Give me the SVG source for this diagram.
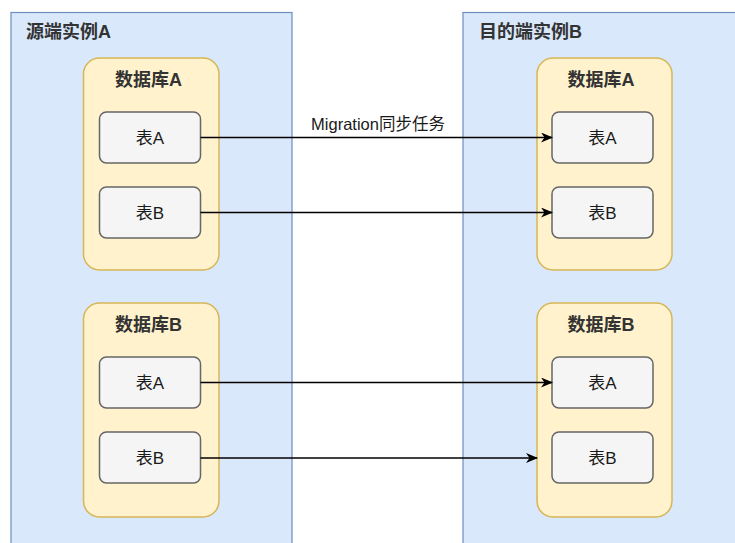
<svg xmlns="http://www.w3.org/2000/svg" width="735" height="543" viewBox="0 0 735 543">
<defs>
<style>
.inst{fill:#dae8fc;stroke:#6c8ebf;stroke-width:1.2}
.db{fill:#fff2cc;stroke:#d6b656;stroke-width:1.5}
.tbl{fill:#f5f5f5;stroke:#666666;stroke-width:1.5}
.t{font-family:"Liberation Sans","Noto Sans CJK SC",sans-serif;fill:#333333}
.ti{font-size:18px;font-weight:bold}
.tt{font-size:17px;text-anchor:middle;fill:#1a1a1a}
.dt{font-size:18px;font-weight:bold;text-anchor:middle}
.lbl{font-size:16.5px;text-anchor:middle;fill:#1a1a1a}
.edge{stroke:#000;stroke-width:1.4;fill:none}
</style>
<marker id="arr" viewBox="0 0 12 10" refX="11" refY="5" markerWidth="12" markerHeight="10" markerUnits="userSpaceOnUse" orient="auto">
<path d="M0,0 L12,5 L0,10 L3.5,5 Z" fill="#000"/>
</marker>
</defs>
<rect width="735" height="543" fill="#ffffff"/>
<g id="srcInstance">
<rect class="inst" x="11" y="12.5" width="281" height="540"/>
<text class="t ti" x="26" y="38">源端实例A</text>
</g>
<g id="dstInstance">
<rect class="inst" x="463" y="12.5" width="290" height="540"/>
<text class="t ti" x="479" y="38">目的端实例B</text>
</g>
<g id="srcDbA">
<rect class="db" x="83.5" y="58" width="135.5" height="212" rx="16"/>
<text class="t dt" x="148.5" y="86">数据库A</text>
</g>
<g id="srcDbA_tA"><rect class="tbl" x="99.5" y="112" width="101" height="51" rx="7"/><text class="t tt" x="150" y="143.5">表A</text></g>
<g id="srcDbA_tB"><rect class="tbl" x="99.5" y="187" width="101" height="51" rx="7"/><text class="t tt" x="150" y="218.5">表B</text></g>
<g id="srcDbB">
<rect class="db" x="83.5" y="303" width="135.5" height="214" rx="16"/>
<text class="t dt" x="148.5" y="331">数据库B</text>
</g>
<g id="srcDbB_tA"><rect class="tbl" x="99.5" y="357" width="101" height="51" rx="7"/><text class="t tt" x="150" y="388.5">表A</text></g>
<g id="srcDbB_tB"><rect class="tbl" x="99.5" y="432" width="101" height="51" rx="7"/><text class="t tt" x="150" y="463.5">表B</text></g>
<g id="dstDbA">
<rect class="db" x="537" y="58" width="135" height="212" rx="16"/>
<text class="t dt" x="601" y="86">数据库A</text>
</g>
<g id="dstDbA_tA"><rect class="tbl" x="552" y="112" width="101" height="51" rx="7"/><text class="t tt" x="602.5" y="143.5">表A</text></g>
<g id="dstDbA_tB"><rect class="tbl" x="552" y="187" width="101" height="51" rx="7"/><text class="t tt" x="602.5" y="218.5">表B</text></g>
<g id="dstDbB">
<rect class="db" x="537" y="303" width="135" height="214" rx="16"/>
<text class="t dt" x="601" y="331">数据库B</text>
</g>
<g id="dstDbB_tA"><rect class="tbl" x="552" y="357" width="101" height="51" rx="7"/><text class="t tt" x="602.5" y="388.5">表A</text></g>
<g id="dstDbB_tB"><rect class="tbl" x="552" y="432" width="101" height="51" rx="7"/><text class="t tt" x="602.5" y="463.5">表B</text></g>
<g id="connectors">
<line class="edge" x1="200.5" y1="137.5" x2="552" y2="137.5" marker-end="url(#arr)"/>
<text class="t lbl" x="378" y="130">Migration同步任务</text>
<line class="edge" x1="200.5" y1="212.5" x2="552" y2="212.5" marker-end="url(#arr)"/>
<line class="edge" x1="200.5" y1="382.5" x2="552" y2="382.5" marker-end="url(#arr)"/>
<line class="edge" x1="200.5" y1="458" x2="537" y2="458" marker-end="url(#arr)"/>
</g>
</svg>
